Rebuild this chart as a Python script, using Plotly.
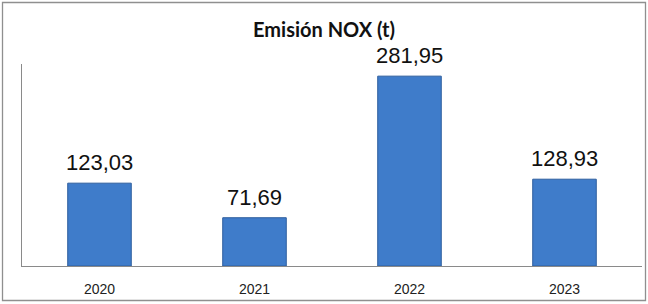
import plotly.graph_objects as go

years = ["2020", "2021", "2022", "2023"]
nox = [123.03, 71.69, 281.95, 128.93]
labels = [f"{v:.2f}".replace(".", ",") for v in nox]

W, H = 648, 304
L, R, T, B = 22, 6, 64, 38
pw, ph = W - L - R, H - T - B

def px_x(px):
    return (px - L) / pw

def px_y(py):
    return (H - B - py) / ph

fig = go.Figure(go.Bar(
    x=years, y=nox,
    marker=dict(color="#3f7cca", line=dict(color="#2e5e9e", width=1)),
    cliponaxis=False, width=0.41,
))

# category index positions for the value labels
annotations = [dict(x=i, y=y, xref="x", yref="y", text=t, showarrow=False,
                    yanchor="bottom", yshift=6,
                    font=dict(family="Liberation Sans, Arial", size=22, color="#111"))
               for i, (y, t) in enumerate(zip(nox, labels))]

fig.update_layout(
    width=W, height=H,
    margin=dict(l=L, r=R, t=T, b=B),
    paper_bgcolor="white", plot_bgcolor="white",
    showlegend=False,
    annotations=annotations,
    title=dict(text="<b>Emisión NOX (t)</b>", x=0.5, xanchor="center",
               y=1 - 30 / H, yanchor="middle", yref="container",
               font=dict(family="Lato, Open Sans, sans-serif", size=20, color="#111")),
    xaxis=dict(type="category", categoryorder="array", categoryarray=years,
               range=[-0.5, len(years) - 0.5],
               showline=True, linecolor="#8a8a8a", linewidth=1, showgrid=False,
               ticks="outside", ticklen=10, tickcolor="rgba(0,0,0,0)",
               tickfont=dict(family="Liberation Sans, Arial", size=14, color="#222")),
    yaxis=dict(range=[0, 300], showline=True, linecolor="#8a8a8a", linewidth=1,
               showgrid=False, showticklabels=False, ticks="", zeroline=False),
    shapes=[dict(type="rect", xref="paper", yref="paper",
                 x0=px_x(2.5), x1=px_x(645.5), y0=px_y(300.5), y1=px_y(2.5),
                 line=dict(color="#8f8f8f", width=1.3), fillcolor="rgba(0,0,0,0)",
                 layer="above")],
)

fig.write_html("out.html", config={"displayModeBar": False},
               post_script="document.body.style.margin='0';document.body.style.overflow='hidden';")
